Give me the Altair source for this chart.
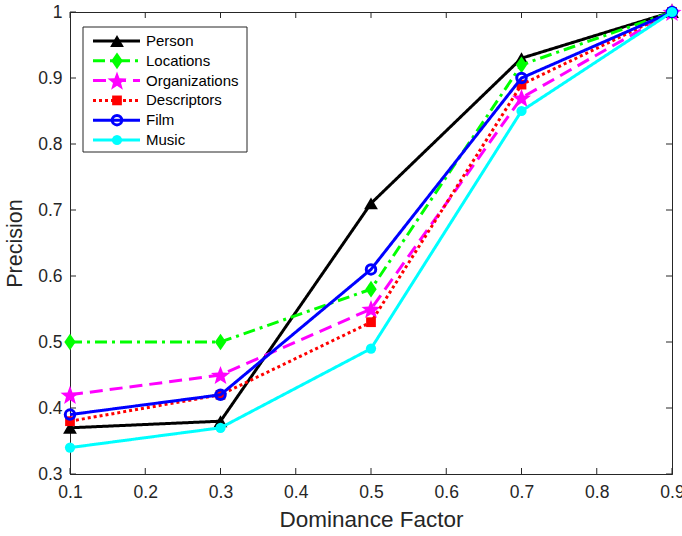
import math
import altair as alt
import pandas as pd

# ---- data ----
x_vals = [0.1, 0.3, 0.5, 0.7, 0.9]
series_names = ["Person", "Locations", "Organizations", "Descriptors", "Film", "Music"]
person = [0.37, 0.38, 0.71, 0.93, 1.0]
locations = [0.50, 0.50, 0.58, 0.92, 1.0]
organizations = [0.42, 0.45, 0.55, 0.87, 1.0]
descriptors = [0.38, 0.42, 0.53, 0.89, 1.0]
film = [0.39, 0.42, 0.61, 0.90, 1.0]
music = [0.34, 0.37, 0.49, 0.85, 1.0]
x_ticks = [0.1, 0.2, 0.3, 0.4, 0.5, 0.6, 0.7, 0.8, 0.9]
y_ticks = [0.3, 0.4, 0.5, 0.6, 0.7, 0.8, 0.9, 1.0]

values = [person, locations, organizations, descriptors, film, music]

rows = []
for name, vals in zip(series_names, values):
    for xv, yv in zip(x_vals, vals):
        rows.append({"series": name, "x": xv, "y": yv})
df = pd.DataFrame(rows)
legend_df = pd.DataFrame({"series": series_names})

# ---- styles ----
def star_path(outer=1.0, inner=0.42):
    pts = []
    for i in range(10):
        r = outer if i % 2 == 0 else inner
        a = -math.pi / 2 + i * math.pi / 5
        pts.append((r * math.cos(a), r * math.sin(a) + 0.1))
    return "M" + "L".join(f"{px:.3f},{py:.3f}" for px, py in pts) + "Z"

diamond_path = "M0,-1L0.68,0L0,1L-0.68,0Z"

styles = {
    "Person": dict(color="#000000", dash=[1, 0], shape="triangle-up", size=190, filled=True),
    "Locations": dict(color="#00ff00", dash=[12, 5, 3, 5], shape=diamond_path, size=280, filled=True),
    "Organizations": dict(color="#ff00ff", dash=[13, 7], shape=star_path(), size=400, filled=True),
    "Descriptors": dict(color="#ff0000", dash=[3, 3], shape="square", size=95, filled=True),
    "Film": dict(color="#0000ff", dash=[1, 0], shape="circle", size=90, filled=False),
    "Music": dict(color="#00ffff", dash=[1, 0], shape="circle", size=105, filled=True),
}

FONT = "Liberation Sans"
AX = "#262626"
W, H = 602, 462

x_enc = alt.X("x:Q", scale=alt.Scale(domain=[0.1, 0.9], nice=False, zero=False),
              axis=alt.Axis(values=x_ticks, format=".1~f", title="Dominance Factor",
                            grid=False, ticks=False, labelFlush=False, labelPadding=9,
                            titlePadding=8, titleFontSize=22.5))
y_enc = alt.Y("y:Q", scale=alt.Scale(domain=[0.3, 1.0], nice=False, zero=False),
              axis=alt.Axis(values=y_ticks, format=".1~f", title="Precision",
                            grid=False, ticks=False, labelFlush=False, labelPadding=8,
                            titlePadding=11))

base = alt.Chart(df)
main_layers = []
for name in series_names:
    s = styles[name]
    sub = base.transform_filter(alt.datum.series == name)
    line = sub.mark_line(color=s["color"], strokeWidth=3, strokeDash=s["dash"]).encode(
        x=x_enc, y=y_enc)
    if s["filled"]:
        pt = sub.mark_point(shape=s["shape"], size=s["size"], filled=True,
                            color=s["color"], opacity=1, strokeWidth=0)
    else:
        pt = sub.mark_point(shape=s["shape"], size=s["size"], filled=False,
                            color=s["color"], opacity=1, strokeWidth=3)
    main_layers += [line, pt.encode(x=x_enc, y=y_enc)]

# inward tick marks on all four sides
xt = alt.Chart(pd.DataFrame({"x": x_ticks}))
yt = alt.Chart(pd.DataFrame({"y": y_ticks}))
tick_style = dict(color=AX, strokeWidth=1)
ticks = [
    xt.mark_rule(**tick_style).encode(x=x_enc, y=alt.value(H), y2=alt.value(H - 6)),
    xt.mark_rule(**tick_style).encode(x=x_enc, y=alt.value(0), y2=alt.value(6)),
    yt.mark_rule(**tick_style).encode(y=y_enc, x=alt.value(0), x2=alt.value(6)),
    yt.mark_rule(**tick_style).encode(y=y_enc, x=alt.value(W), x2=alt.value(W - 6)),
]

main = alt.layer(*(ticks + main_layers))

# ---- legend ----
ly = alt.Y("series:N", scale=alt.Scale(type="point", domain=series_names, range=[29, 128], padding=0),
           axis=None)
lbase = alt.Chart(legend_df)
legend_layers = [
    alt.Chart(pd.DataFrame({"a": [0]})).mark_rect(fill="white", stroke=AX, strokeWidth=1).encode(
        x=alt.value(13), x2=alt.value(177), y=alt.value(15), y2=alt.value(140))
]
for name in series_names:
    s = styles[name]
    sub = lbase.transform_filter(alt.datum.series == name)
    legend_layers.append(sub.mark_rule(color=s["color"], strokeWidth=3, strokeDash=s["dash"]).encode(
        x=alt.value(23), x2=alt.value(70), y=ly))
    if s["filled"]:
        pt = sub.mark_point(shape=s["shape"], size=s["size"], filled=True,
                            color=s["color"], opacity=1, strokeWidth=0)
    else:
        pt = sub.mark_point(shape=s["shape"], size=s["size"], filled=False,
                            color=s["color"], opacity=1, strokeWidth=3)
    legend_layers.append(pt.encode(x=alt.value(47), y=ly))
legend_layers.append(lbase.mark_text(align="left", baseline="middle", font=FONT, fontSize=15,
                                     color="#000000").encode(
    x=alt.value(76), y=ly, text="series:N"))
legend = alt.layer(*legend_layers)

chart = alt.layer(main, legend).resolve_scale(y="independent").properties(
    width=W, height=H,
    autosize=alt.AutoSizeParams(type="none"),
    padding={"left": 70, "top": 12, "right": 10, "bottom": 62},
    background="white",
).configure_view(stroke=AX, strokeWidth=1).configure_axis(
    domainColor=AX, labelColor=AX, titleColor=AX, labelFont=FONT, titleFont=FONT,
    labelFontSize=17.5, titleFontSize=21.5, titleFontWeight="normal", domainWidth=1,
)

chart.save("out.html", embed_options={"renderer": "svg", "actions": False})
